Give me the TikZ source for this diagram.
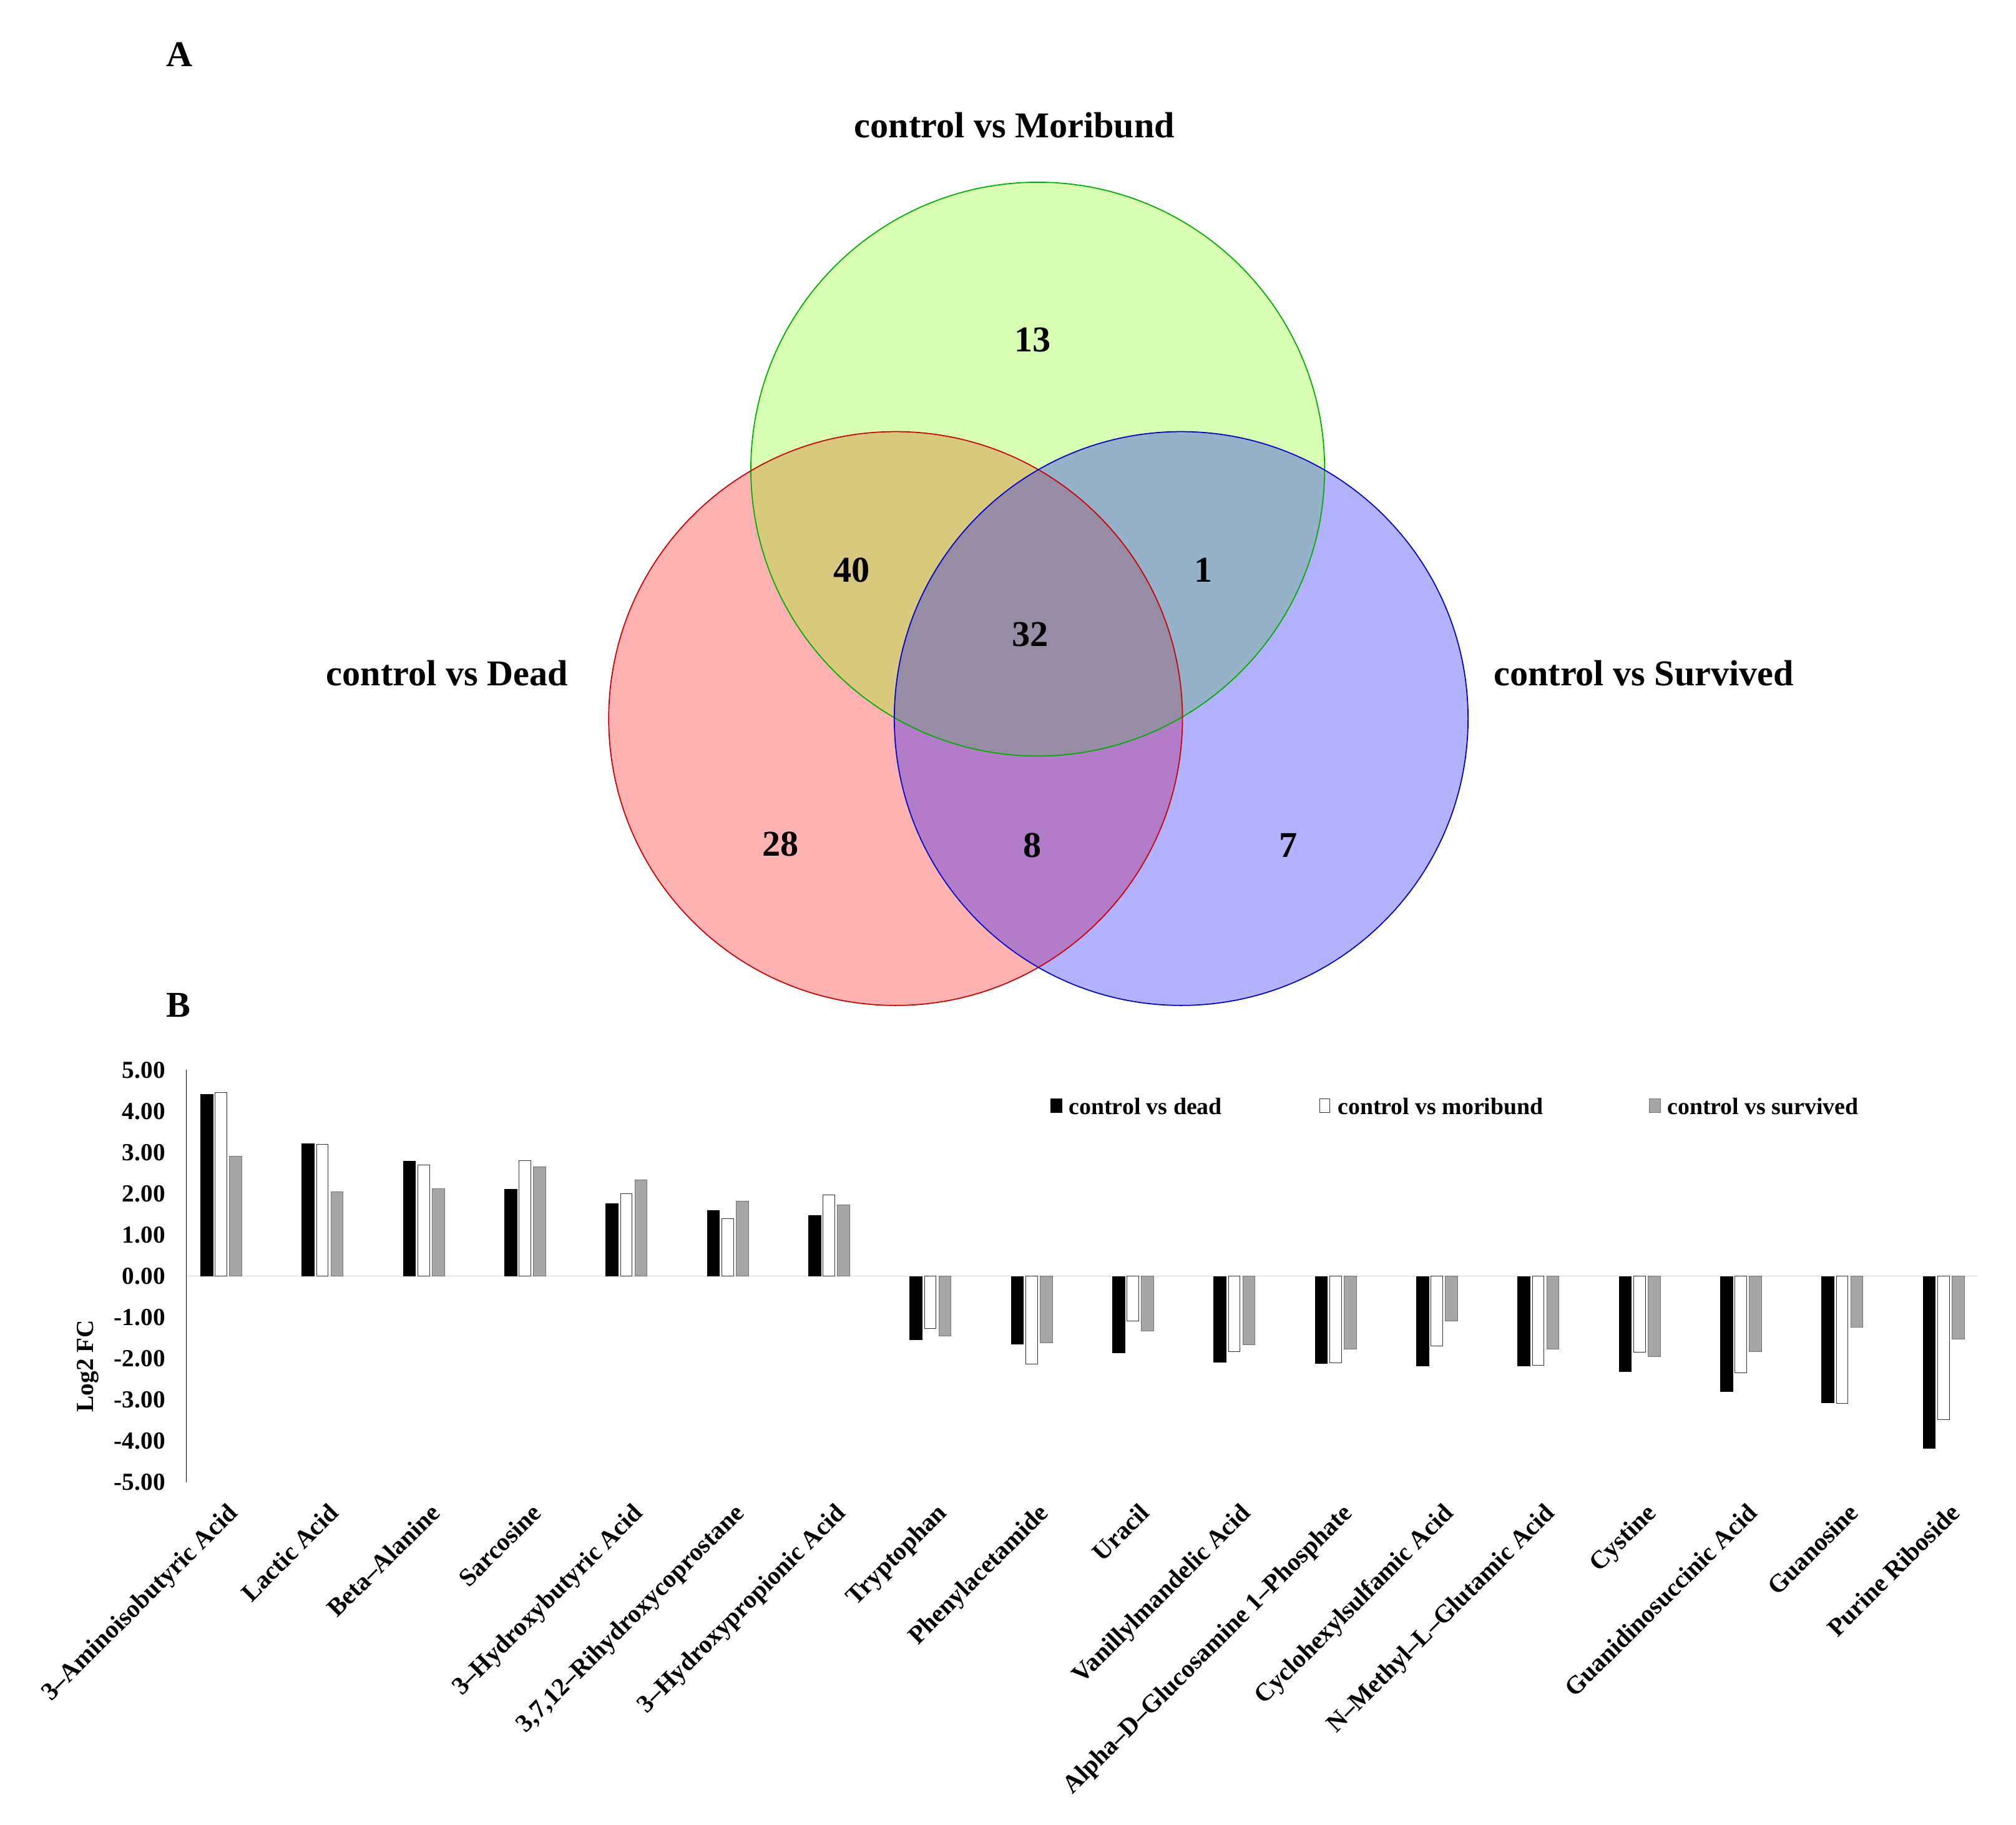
\documentclass[tikz,border=0pt]{standalone}
\usepackage{fontspec}
\setmainfont{Liberation Serif}
\begin{document}
\begin{tikzpicture}[x=0.05cm,y=-0.05cm,
  big/.style={font=\fontsize{40}{44}\selectfont\bfseries},
  mid/.style={font=\fontsize{27}{30}\selectfont\bfseries},
  lab/.style={font=\fontsize{28}{30}\selectfont\bfseries},
  sm/.style={font=\fontsize{26}{28}\selectfont\bfseries},
  vc/.style={line width=1.2pt, fill opacity=0.3},
  pat/.style={fill=gray!70, draw=gray!90!black, line width=0.4pt}]
\useasboundingbox (0,0) rectangle (1560,1412);
\fill[white] (0,0) rectangle (1560,1412);
\definecolor{vg}{RGB}{127,255,0}
\path[vc, fill=red] (693,556) circle[radius=222*0.05cm];
\path[vc, fill=vg] (803,363) circle[radius=222*0.05cm];
\path[vc, fill=blue] (914,556) circle[radius=222*0.05cm];
\draw[line width=1.2pt, green!60!black!80!green] (803,363) circle[radius=222*0.05cm];
\draw[line width=1.2pt, red!80!black] (693,556) circle[radius=222*0.05cm];
\draw[line width=1.2pt, blue!80!black] (914,556) circle[radius=222*0.05cm];
\node[big] (A) at (139,42) {A};
\node[big] (B) at (138,778) {B};
\node[big] (lm) at (785,97) {control vs Moribund};
\node[big] (ld) at (346,521) {control vs Dead};
\node[big] (ls) at (1272,521) {control vs Survived};
\node[big] (n13) at (799,263) {13};
\node[big] (n40) at (659,441) {40};
\node[big] (n1) at (931,441) {1};
\node[big] (n32) at (797,491) {32};
\node[big] (n28) at (604,653) {28};
\node[big] (n8) at (799,654) {8};
\node[big] (n7) at (997,654) {7};
% bar chart
\def\zy{987.5}\def\u{31.9}
\draw[gray!30, line width=1pt] (144,\zy) -- (1530,\zy);
\draw[black, line width=0.8pt] (144,828) -- (144,1147);
\foreach \v/\t in {5/5.00,4/4.00,3/3.00,2/2.00,1/1.00,0/0.00,-1/-1.00,-2/-2.00,-3/-3.00,-4/-4.00,-5/-5.00}
  \node[mid, anchor=east, inner sep=0pt] at (128,{\zy-\v*\u}) {\t};
\node[mid, rotate=90] (yl) at (68,1057) {Log2 FC};
\foreach \i/\a/\b/\c/\lab in {
 0/4.42/4.45/2.92/3–Aminoisobutyric Acid,
 1/3.22/3.20/2.05/Lactic Acid,
 2/2.80/2.70/2.12/Beta–Alanine,
 3/2.12/2.80/2.65/Sarcosine,
 4/1.77/2.00/2.33/3–Hydroxybutyric Acid,
 5/1.60/1.40/1.82/{3,7,12–Rihydroxycoprostane},
 6/1.48/1.97/1.73/3–Hydroxypropionic Acid,
 7/-1.55/-1.27/-1.45/Tryptophan,
 8/-1.66/-2.13/-1.61/Phenylacetamide,
 9/-1.86/-1.08/-1.32/Uracil,
 10/-2.10/-1.82/-1.66/Vanillylmandelic Acid,
 11/-2.12/-2.10/-1.77/Alpha–D–Glucosamine 1–Phosphate,
 12/-2.19/-1.69/-1.08/Cyclohexylsulfamic Acid,
 13/-2.19/-2.16/-1.77/N–Methyl–L–Glutamic Acid,
 14/-2.32/-1.84/-1.94/Cystine,
 15/-2.81/-2.34/-1.83/Guanidinosuccinic Acid,
 16/-3.08/-3.08/-1.24/Guanosine,
 17/-4.19/-3.48/-1.52/Purine Riboside} {
  \pgfmathsetmacro{\x}{155+78.4*\i}
  \fill[black] (\x,\zy) rectangle ({\x+10},{\zy-\a*\u});
  \draw[black!80, line width=0.5pt, fill=white] ({\x+11.5},\zy) rectangle ({\x+20.5},{\zy-\b*\u});
  \draw[pat] ({\x+22.5},\zy) rectangle ({\x+32},{\zy-\c*\u});
  \node[lab, rotate=45, anchor=north east, inner sep=0pt] at ({\x+20},1162) {\lab};
}
% legend
\fill[black] (813,850) rectangle (822,861);
\node[sm, anchor=west, inner sep=0pt] (l1) at (827,856) {control vs dead};
\draw[black!80, line width=0.5pt, fill=white] (1021,850) rectangle (1029,861);
\node[sm, anchor=west, inner sep=0pt] (l2) at (1035,856) {control vs moribund};
\draw[pat] (1276,850) rectangle (1285,861);
\node[sm, anchor=west, inner sep=0pt] (l3) at (1290,856) {control vs survived};
\end{tikzpicture}
\end{document}
